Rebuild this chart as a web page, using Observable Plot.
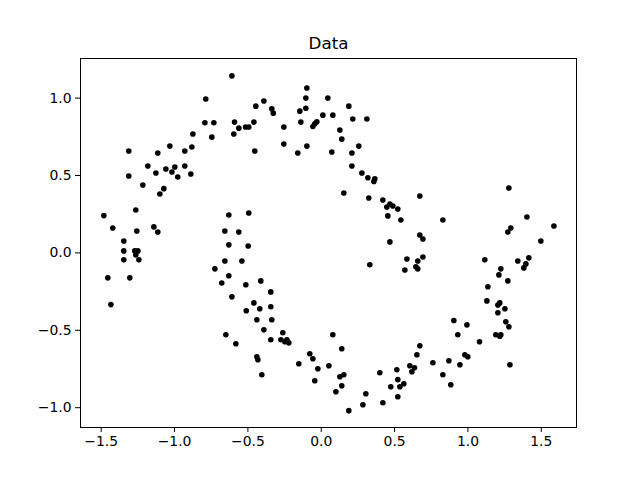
<!DOCTYPE html>
<html>
<head>
<meta charset="utf-8">
<script src="https://cdn.jsdelivr.net/npm/d3@7"></script>
<script src="https://cdn.jsdelivr.net/npm/@observablehq/plot@0.6"></script>
<style>
  html, body { margin: 0; padding: 0; background: #fff; }
</style>
</head>
<body>
<div id="chart"></div>
<script>
const title = "Data";
const xTicks = [-1.5, -1.0, -0.5, 0.0, 0.5, 1.0, 1.5];
const yTicks = [-1.0, -0.5, 0.0, 0.5, 1.0];

const xs = [
  -0.609,-0.787,-0.793,-0.732,-0.591,-0.562,-0.516,-0.494,-0.596,-0.746,
  -0.875,-0.882,-0.930,-1.032,-1.114,-1.312,-1.312,-1.182,-1.127,-1.059,
  -1.018,-0.998,-0.978,-0.930,-0.889,-1.216,-0.459,-0.446,-0.391,-0.337,
  -0.327,-0.453,-0.255,-0.255,-0.160,-0.098,-0.139,-0.146,-0.105,-0.105,
  -0.098,-0.057,-0.044,-0.030,0.011,0.045,0.079,0.072,0.188,0.215,
  0.311,0.127,0.140,0.209,0.256,0.209,0.277,0.318,0.365,0.359,
  -1.073,-1.100,-1.264,-1.482,-1.421,-1.257,-1.141,-1.114,-1.346,-1.346,
  -1.271,-1.250,-1.264,-1.346,-1.243,-1.455,-1.305,-1.434,-0.630,-0.494,
  -0.657,-0.562,-0.630,-0.498,-0.657,-0.541,-0.725,-0.630,-0.678,-0.514,
  -0.609,-0.511,-0.650,-0.582,0.154,0.324,0.420,0.468,0.447,0.488,
  0.522,0.454,0.543,0.468,0.331,0.584,0.570,-0.412,-0.344,-0.459,
  0.672,0.829,0.672,0.693,0.658,0.693,0.645,0.658,1.279,1.402,
  1.586,1.292,1.272,1.497,1.115,1.340,1.415,1.395,1.381,1.224,
  1.211,1.272,1.136,1.129,1.217,1.204,1.252,1.204,0.904,0.993,
  1.258,1.279,0.931,1.190,1.224,1.217,1.079,0.672,0.652,0.979,
  0.999,0.761,0.870,0.945,1.286,0.604,0.636,0.618,0.829,0.883,
  -0.419,-0.344,-0.439,-0.337,-0.391,-0.344,-0.262,-0.275,-0.248,-0.234,
  -0.221,-0.439,-0.432,-0.405,-0.153,-0.078,-0.057,-0.023,-0.044,0.079,
  0.140,0.052,0.127,0.154,0.140,0.100,0.188,0.284,0.304,0.399,
  0.420,0.474,0.515,0.522,0.536,0.563,0.522
];
const ys = [
  1.144,0.994,0.841,0.841,0.845,0.806,0.813,0.813,0.768,0.748,
  0.768,0.684,0.658,0.690,0.645,0.658,0.497,0.561,0.516,0.542,
  0.523,0.555,0.490,0.561,0.510,0.439,0.845,0.948,0.981,0.931,
  0.903,0.658,0.813,0.703,0.645,0.690,0.845,0.916,0.935,1.000,
  1.065,0.817,0.834,0.847,0.890,1.000,0.890,0.652,0.948,0.865,
  0.865,0.794,0.735,0.645,0.690,0.561,0.516,0.486,0.479,0.462,
  0.415,0.381,0.277,0.241,0.161,0.142,0.168,0.135,0.077,0.013,
  0.013,0.013,-0.013,-0.045,-0.045,-0.161,-0.161,-0.334,0.245,0.258,
  0.142,0.135,0.052,0.045,-0.052,-0.052,-0.103,-0.148,-0.194,-0.206,
  -0.284,-0.374,-0.529,-0.587,0.387,0.355,0.342,0.316,0.297,0.303,
  0.284,0.239,0.213,0.071,-0.077,-0.039,-0.110,-0.181,-0.252,-0.323,
  0.368,0.213,0.116,0.090,-0.052,-0.026,-0.090,-0.103,0.419,0.232,
  0.174,0.161,0.135,0.077,-0.045,-0.052,-0.032,-0.071,-0.097,-0.103,
  -0.142,-0.181,-0.219,-0.310,-0.323,-0.337,-0.361,-0.387,-0.437,-0.465,
  -0.445,-0.477,-0.529,-0.529,-0.529,-0.538,-0.574,-0.600,-0.658,-0.658,
  -0.671,-0.710,-0.697,-0.723,-0.723,-0.729,-0.742,-0.768,-0.787,-0.852,
  -0.361,-0.348,-0.432,-0.432,-0.497,-0.561,-0.516,-0.561,-0.574,-0.561,
  -0.581,-0.671,-0.690,-0.787,-0.716,-0.652,-0.684,-0.748,-0.826,-0.529,
  -0.619,-0.729,-0.800,-0.787,-0.858,-0.897,-1.019,-0.981,-0.910,-0.774,
  -0.968,-0.865,-0.755,-0.819,-0.865,-0.845,-0.929
];

const points = xs.map((x, i) => ({x, y: ys[i]}));

const chart = Plot.plot({
  width: 640,
  height: 480,
  marginLeft: 80,
  marginRight: 64,
  marginTop: 58,
  marginBottom: 53,
  style: {
    fontFamily: "'DejaVu Sans', sans-serif",
    fontSize: "13.9px",
    color: "black",
    background: "white",
    overflow: "visible"
  },
  x: {domain: [-1.641, 1.740], ticks: xTicks, tickFormat: d3.format(".1f"), tickSize: 5, tickPadding: 4, label: null},
  y: {domain: [-1.128, 1.256], ticks: yTicks, tickFormat: d3.format(".1f"), tickSize: 5, tickPadding: 4, label: null},
  marks: [
    Plot.frame({stroke: "black", strokeWidth: 1}),
    Plot.dot(points, {x: "x", y: "y", r: 2.8, fill: "black", stroke: "none"}),
    Plot.text([title], {frameAnchor: "top", lineAnchor: "middle", dy: -15, fontSize: 16.7, fill: "black"})
  ]
});
document.getElementById("chart").appendChild(chart);
</script>
</body>
</html>
